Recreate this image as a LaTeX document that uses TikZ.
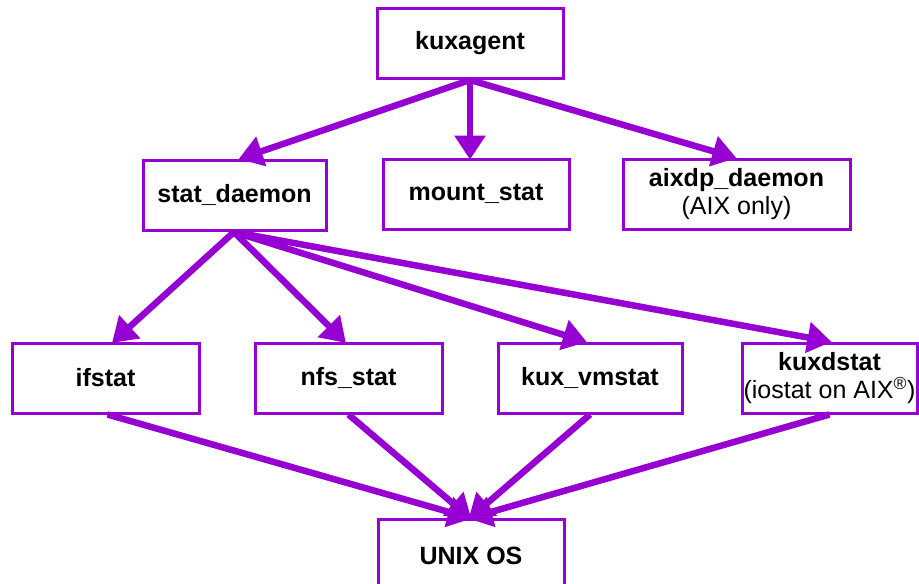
\documentclass[tikz,border=0pt]{standalone}
\usepackage{fontspec}
\setmainfont{Liberation Sans}
\usetikzlibrary{arrows.meta}
\definecolor{pur}{RGB}{150,0,210}
\begin{document}
\begin{tikzpicture}[x=1pt,y=-1pt,
  box/.style={draw=pur,line width=3pt,fill=white,minimum height=70pt,inner sep=0pt,align=center,
    font=\fontsize{25}{28}\selectfont\bfseries},
  conn/.style={draw=pur,line width=6.5pt,-{Triangle[length=24pt,width=30pt]},shorten >=-2pt}]
\useasboundingbox (0,0) rectangle (919,584);
\node[box,minimum width=186pt] (ka) at (470,43) {kuxagent};
\node[box,minimum width=183pt] (sd) at (234.5,195) {stat\_daemon};
\node[box,minimum width=186pt] (ms) at (476,194) {mount\_stat};
\node[box,minimum width=227pt] (ax) at (736.5,194) {aixdp\_daemon\\{\mdseries (AIX only)}};
\node[box,minimum width=187pt] (if) at (105.5,378) {ifstat};
\node[box,minimum width=187pt] (nf) at (348.5,378) {nfs\_stat};
\node[box,minimum width=184pt] (vm) at (590,378) {kux\_vmstat};
\node[box,minimum width=175pt] (kd) at (829.5,378) {kuxdstat\\{\mdseries (iostat on AIX\textsuperscript{\textregistered})}};
\node[box,minimum width=186pt,minimum height=90pt,anchor=north] (ux) at (471,518) {\raisebox{18pt}{UNIX OS}};
\coordinate (kaS) at (470,80);
\coordinate (sdS) at (234,232);
\coordinate (uxN) at (470,518);
\draw[conn] (kaS) -- ([xshift=6pt]sd.north);
\draw[conn] (kaS) -- ([xshift=-6pt]ms.north);
\draw[conn] (kaS) -- ([xshift=-2pt]ax.north);
\draw[conn] (sdS) -- ([xshift=8pt]if.north);
\draw[conn] (sdS) -- ([xshift=-4pt]nf.north);
\draw[conn] (sdS) -- ([xshift=-5pt]vm.north);
\draw[conn] (sdS) -- (kd.north);
\draw[conn] ([xshift=2pt]if.south) -- (uxN);
\draw[conn] (nf.south) -- (uxN);
\draw[conn] (vm.south) -- (uxN);
\draw[conn] (kd.south) -- (uxN);
\end{tikzpicture}
\end{document}
